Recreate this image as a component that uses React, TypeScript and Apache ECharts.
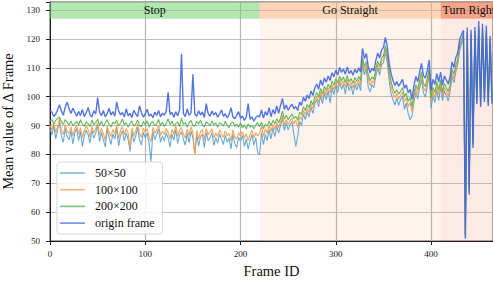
import React, { useEffect, useRef } from 'react';
import * as echarts from 'echarts';

// Frame IDs sampled every 2 frames (0 … 464)
const frameStep = 2;

const seriesNames = ['50×50', '100×100', '200×200', 'origin frame'];

const phaseNames = ['Stop', 'Go Straight', 'Turn Right'];
const phaseStart = [0, 220, 410];
const phaseEnd = [220, 410, 465];

const xTickValues = [0, 100, 200, 300, 400];
const yTickValues = [50, 60, 70, 80, 90, 100, 110, 120, 130];

// origin frame
const sOrigin = [
  95.2, 94.6, 93.1, 94.0, 95.5, 97.2, 95.0, 93.6, 96.4, 98.1,
  95.8, 94.2, 96.0, 94.7, 93.2, 94.9, 93.5, 95.6, 93.1, 94.4,
  96.3, 93.8, 92.9, 95.1, 94.0, 99.7, 94.6, 93.4, 95.2, 93.0,
  94.1, 96.0, 93.6, 94.8, 93.2, 98.2, 95.1, 93.7, 94.5, 93.0,
  95.8, 93.4, 94.2, 92.8, 95.3, 94.0, 93.1, 96.9, 94.4, 92.9,
  94.1, 95.6, 93.3, 94.0, 92.7, 94.6, 93.5, 95.2, 93.0, 94.3,
  93.6, 95.0, 101.5, 93.8, 94.5, 92.9, 94.8, 93.4, 95.5, 114.9,
  94.2, 93.1, 95.8, 93.5, 94.4, 107.8, 94.0, 93.2, 95.1, 93.6,
  94.7, 92.8, 97.6, 94.1, 93.3, 95.0, 93.7, 94.5, 92.9, 94.0,
  95.4, 93.2, 94.1, 92.6, 93.9, 96.2, 93.0, 92.4, 93.5, 94.8,
  92.5, 93.3, 91.8, 92.9, 97.6, 92.2, 93.0, 91.5, 92.8, 93.4,
  93.0, 95.4, 92.6, 94.8, 93.5, 96.2, 93.1, 95.5, 94.0, 96.8,
  94.2, 97.0, 99.4, 95.6, 97.1, 95.3, 96.5, 97.4, 95.8, 96.6,
  95.2, 98.1, 97.0, 99.8, 98.4, 100.6, 99.3, 102.0, 100.4, 103.1,
  104.4, 102.6, 105.8, 103.9, 106.5, 105.0, 107.2, 105.6, 108.3, 106.9,
  109.2, 107.5, 110.1, 108.4, 109.6, 107.8, 110.3, 108.0, 109.1, 107.4,
  109.5, 108.2, 110.0, 108.5, 116.7, 113.2, 115.0, 110.4, 108.3, 109.8,
  108.9, 112.6, 115.1, 113.4, 116.2, 117.0, 120.5, 117.4, 111.6, 108.0,
  105.7, 103.9, 105.2, 103.6, 104.8, 106.0, 102.9, 104.1, 101.3, 102.5,
  99.1, 103.8, 107.0, 105.2, 108.6, 111.5, 107.3, 106.4, 109.1, 112.7,
  102.2, 106.0, 104.3, 108.0, 105.1,
  108.5, 104.0, 107.2, 105.8, 104.4, 106.9, 112.0, 110.2, 113.5, 115.3,
  119.8, 121.5, 123.0, 50.8, 124.0, 66.0, 123.2, 82.2, 124.1, 97.5,
  126.2, 96.4, 125.3, 98.2, 124.6, 96.8, 121.0, 97.5,
];

// 200×200
const s200 = [
  91.5, 92.0, 90.6, 91.8, 92.4, 93.0, 91.2, 90.4, 92.1, 91.0,
  90.2, 91.6, 89.9, 90.8, 91.4, 90.1, 92.0, 90.5, 89.8, 91.3,
  90.7, 89.6, 91.9, 90.3, 91.1, 92.2, 90.0, 91.5, 89.7, 90.9,
  92.0, 90.4, 89.5, 91.2, 90.6, 91.8, 89.9, 90.7, 92.3, 90.2,
  91.0, 89.4, 90.8, 91.6, 89.8, 90.5, 91.9, 90.1, 89.6, 91.4,
  90.3, 91.7, 89.5, 90.9, 91.3, 89.9, 90.6, 92.1, 90.0, 91.1,
  89.7, 90.8, 92.4, 90.3, 91.5, 89.8, 90.7, 91.2, 89.6, 92.6,
  90.4, 91.0, 89.5, 90.9, 91.8, 90.1, 89.7, 91.4, 90.5, 91.9,
  90.0, 89.6, 91.3, 90.7, 89.9, 91.6, 90.2, 90.9, 89.4, 91.0,
  90.6, 89.8, 91.5, 90.1, 89.3, 90.8, 91.2, 89.7, 90.4, 89.5,
  90.9, 89.2, 90.3, 88.8, 90.6, 89.4, 90.0, 88.9, 90.2, 91.0,
  89.6, 91.2, 88.9, 90.4, 89.8, 91.5, 90.0, 91.8, 90.6, 92.4,
  91.0, 92.5, 95.0, 92.3, 93.6, 92.0, 93.1, 94.0, 92.4, 93.2,
  91.8, 94.6, 93.9, 96.5, 95.2, 97.3, 96.1, 98.6, 97.2, 100.0,
  101.5, 99.8, 102.9, 101.0, 103.6, 102.2, 104.3, 102.8, 105.4, 104.0,
  106.2, 104.7, 107.1, 105.5, 106.8, 104.9, 107.4, 105.1, 106.3, 104.6,
  106.7, 105.3, 107.0, 105.6, 113.5, 110.4, 112.1, 107.6, 105.5, 106.9,
  106.0, 109.8, 112.3, 110.6, 113.4, 114.2, 117.6, 114.5, 108.9, 105.3,
  102.8, 101.2, 102.4, 100.9, 101.9, 103.1, 100.0, 101.2, 98.4, 99.7,
  96.5, 101.0, 104.1, 102.5, 105.8, 108.6, 104.6, 103.5, 106.3, 109.8,
  99.6, 103.2, 101.5, 105.1, 102.4,
  105.9, 101.6, 104.5, 103.1, 101.8, 104.2, 109.4, 107.8, 111.0, 113.0,
  117.6, 119.8, 121.6, 51.5, 122.5, 67.2, 121.8, 83.4, 122.6, 98.2,
  124.5, 97.3, 123.6, 99.0, 122.9, 97.6, 119.6, 98.3,
];

// 100×100
const s100 = [
  90.2, 88.4, 91.0, 87.6, 89.8, 92.5, 88.1, 86.9, 90.4, 88.0,
  87.2, 89.5, 86.4, 88.9, 90.1, 87.0, 89.3, 85.8, 88.2, 90.0,
  88.6, 86.1, 89.7, 87.5, 88.8, 91.2, 86.7, 89.0, 87.3, 84.6,
  89.9, 87.8, 86.2, 88.7, 87.1, 90.3, 85.5, 88.4, 89.6, 86.8,
  88.9, 87.4, 82.2, 89.2, 86.5, 88.0, 90.6, 87.2, 85.9, 89.1,
  87.7, 88.9, 86.0, 84.3, 89.4, 87.3, 88.5, 90.2, 86.6, 88.1,
  86.9, 89.0, 87.5, 85.4, 88.7, 87.0, 90.0, 86.3, 88.4, 89.3,
  87.1, 85.7, 88.8, 86.4, 89.5, 87.6, 79.8, 88.3, 85.2, 87.9,
  88.6, 84.9, 89.0, 86.8, 87.7, 88.9, 85.6, 87.4, 86.2, 88.5,
  87.0, 85.9, 88.1, 86.5, 87.3, 84.7, 88.6, 86.1, 85.3, 87.5,
  86.4, 88.0, 85.5, 87.2, 84.8, 86.9, 88.3, 85.7, 87.6, 86.3,
  87.5, 89.6, 86.2, 88.8, 87.4, 90.1, 88.0, 90.4, 88.6, 91.0,
  89.3, 91.2, 93.6, 90.1, 92.0, 90.4, 91.7, 92.5, 90.6, 91.8,
  89.4, 93.0, 92.1, 95.2, 93.8, 96.0, 94.6, 97.5, 95.8, 98.7,
  100.2, 98.1, 101.6, 99.5, 102.3, 100.6, 103.0, 101.3, 104.2, 102.4,
  105.0, 103.1, 106.0, 104.2, 105.4, 103.3, 106.1, 103.6, 105.0, 103.0,
  105.4, 103.9, 105.8, 104.0, 112.4, 109.0, 110.9, 106.2, 103.8, 105.5,
  104.6, 108.4, 111.1, 109.1, 112.3, 112.9, 116.4, 113.2, 107.4, 103.6,
  101.0, 99.6, 101.0, 99.2, 100.5, 101.6, 98.3, 99.6, 96.6, 98.0,
  94.8, 99.4, 102.8, 101.0, 104.4, 107.2, 103.1, 101.9, 104.9, 108.6,
  97.9, 101.8, 99.9, 103.6, 100.9,
  104.6, 100.3, 103.0, 101.9, 100.2, 102.9, 108.1, 106.3, 109.8, 112.0,
  116.8, 119.0, 120.9, 52.3, 121.9, 68.0, 121.2, 84.0, 122.0, 99.1,
  123.8, 98.0, 123.0, 99.8, 122.2, 98.4, 118.9, 99.0,
];

// 50×50
const s50 = [
  88.9, 86.8, 90.1, 85.4, 88.6, 91.0, 86.3, 84.2, 89.0, 86.1,
  85.0, 88.2, 83.6, 87.4, 89.0, 84.8, 87.9, 82.7, 86.5, 88.4,
  86.9, 83.9, 88.5, 85.6, 87.3, 90.2, 84.4, 87.6, 85.1, 82.5,
  88.7, 85.9, 83.4, 87.1, 85.3, 89.0, 82.9, 86.6, 88.2, 84.6,
  87.4, 85.2, 81.0, 87.8, 84.3, 86.4, 89.3, 85.0, 83.2, 87.6,
  85.8, 87.3, 83.9, 77.6, 88.0, 85.1, 86.9, 88.8, 84.2, 86.4,
  84.6, 87.5, 85.6, 82.6, 87.1, 84.9, 88.6, 83.8, 86.7, 87.9,
  85.2, 83.1, 87.4, 84.0, 88.1, 85.7, 80.4, 86.8, 82.9, 86.2,
  86.9, 82.4, 87.6, 84.7, 85.9, 87.5, 83.0, 85.8, 83.9, 87.0,
  85.3, 83.4, 86.7, 84.2, 85.6, 81.9, 87.1, 83.6, 82.4, 85.9,
  84.5, 86.6, 82.8, 85.4, 81.8, 84.7, 86.9, 83.1, 85.8, 80.5,
  79.8, 87.6, 83.4, 86.9, 84.8, 88.5, 85.4, 89.1, 86.2, 89.8,
  87.4, 90.1, 92.6, 88.3, 90.9, 88.5, 90.2, 91.3, 86.9, 82.8,
  86.2, 91.5, 90.0, 94.0, 92.1, 94.8, 93.0, 96.4, 94.1, 97.6,
  99.0, 96.5, 100.4, 97.6, 101.2, 98.9, 102.0, 97.8, 103.1, 100.6,
  104.0, 101.4, 105.1, 102.5, 104.3, 100.9, 105.0, 102.1, 103.9, 100.6,
  104.2, 102.3, 104.6, 102.0, 111.5, 107.6, 109.7, 103.4, 101.6, 104.2,
  103.1, 107.1, 110.0, 107.4, 111.2, 111.7, 115.3, 111.8, 105.6, 101.0,
  99.0, 97.1, 99.6, 96.9, 99.0, 100.2, 95.6, 97.8, 94.1, 92.0,
  93.4, 97.9, 101.5, 99.2, 103.1, 105.9, 101.4, 99.8, 103.6, 107.5,
  96.0, 100.5, 97.9, 102.3, 98.7,
  103.4, 98.6, 101.9, 100.3, 98.5, 101.7, 107.0, 104.8, 108.7, 111.0,
  116.0, 118.2, 120.3, 51.9, 121.4, 70.1, 120.7, 85.5, 121.5, 100.3,
  123.2, 98.8, 122.4, 100.7, 121.6, 99.3, 118.3, 99.8,
];

const seriesValues = [s50, s100, s200, sOrigin];
const seriesColors = ['#55a0d3', '#f59a48', '#4db04d', '#3f66e0'];

const FONT = '"Liberation Serif", "Times New Roman", serif';
const X_MAX = 465;
const Y_MIN = 50;
const Y_MAX = 132.8;
const BAND_BOTTOM = 127;

const bandColors = ['rgba(117,210,111,0.55)', 'rgba(251,171,113,0.5)', 'rgba(241,126,88,0.7)'];
const bgColors = ['rgba(255,255,255,0)', 'rgba(250,190,150,0.17)', 'rgba(250,150,120,0.2)'];

export default function App() {
  const ref = useRef<HTMLDivElement>(null);
  useEffect(() => {
    if (!ref.current) return;
    const chart = echarts.init(ref.current, null, { renderer: 'svg' });

    const markAreaData: any[] = [];
    phaseNames.forEach((name, i) => {
      markAreaData.push([
        { xAxis: phaseStart[i], yAxis: Y_MIN, itemStyle: { color: bgColors[i] }, label: { show: false } },
        { xAxis: phaseEnd[i], yAxis: BAND_BOTTOM },
      ]);
    });
    phaseNames.forEach((name, i) => {
      const isLast = i === phaseNames.length - 1;
      markAreaData.push([
        {
          name,
          xAxis: phaseStart[i],
          yAxis: BAND_BOTTOM,
          itemStyle: { color: bandColors[i] },
          label: {
            show: true,
            position: isLast ? 'insideLeft' : 'inside',
            distance: 2,
            color: '#111',
            fontFamily: FONT,
            fontSize: 12,
          },
        },
        { xAxis: phaseEnd[i], yAxis: Y_MAX },
      ]);
    });

    const series = seriesNames.map((name, si) => {
      const vals = seriesValues[si];
      const s: any = {
        name,
        type: 'line',
        symbol: 'none',
        data: vals.map((v, i) => [i * frameStep, v]),
        lineStyle: { color: seriesColors[si], width: si === 3 ? 1.4 : 1.1, opacity: 0.9 },
        itemStyle: { color: seriesColors[si] },
        emphasis: { disabled: true },
        silent: true,
      };
      if (si === 0) {
        s.markArea = { silent: true, data: markAreaData };
      }
      return s;
    });

    chart.setOption({
      animation: false,
      backgroundColor: '#ffffff',
      textStyle: { fontFamily: FONT },
      grid: {
        left: 50,
        right: 0,
        top: 2,
        bottom: 41,
        containLabel: false,
        outerBoundsMode: 'none',
        show: true,
        borderColor: '#444',
        borderWidth: 1,
        backgroundColor: 'transparent',
      },
      legend: {
        orient: 'vertical',
        left: 57,
        top: 162,
        padding: [4, 8, 4, 3],
        itemGap: 2.7,
        itemWidth: 25,
        itemHeight: 1.6,
        icon: 'rect',
        backgroundColor: 'rgba(255,255,255,0.85)',
        borderColor: '#d6d6d6',
        borderWidth: 1,
        borderRadius: 3,
        itemStyle: { opacity: 0.75 },
        textStyle: { fontFamily: FONT, fontSize: 12, color: '#111', lineHeight: 14, padding: [0, 0, 0, 5] },
        data: seriesNames,
      },
      xAxis: {
        type: 'value',
        min: 0,
        max: X_MAX,
        interval: 100,
        name: 'Frame ID',
        nameLocation: 'middle',
        nameGap: 22,
        nameTextStyle: { fontFamily: FONT, fontSize: 14.5, color: '#111' },
        axisLine: { show: true, lineStyle: { color: '#222', width: 1 } },
        axisTick: { show: true, length: 4, lineStyle: { color: '#222' } },
        axisLabel: {
          fontFamily: FONT,
          fontSize: 9,
          color: '#222',
          margin: 8,
          formatter: (v: number) => (xTickValues.includes(v) ? String(v) : ''),
        },
        splitLine: { show: true, lineStyle: { color: '#b4b4b4', width: 1.2 } },
      },
      yAxis: {
        type: 'value',
        min: Y_MIN,
        max: Y_MAX,
        interval: 10,
        name: 'Mean value of Δ Frame',
        nameLocation: 'middle',
        nameGap: 32,
        nameTextStyle: { fontFamily: FONT, fontSize: 14.5, color: '#111' },
        axisLine: { show: true, lineStyle: { color: '#222', width: 1 } },
        axisTick: { show: true, length: 4, lineStyle: { color: '#222' } },
        axisLabel: {
          fontFamily: FONT,
          fontSize: 9,
          color: '#222',
          margin: 10,
          formatter: (v: number) => (yTickValues.includes(v) ? String(v) : ''),
        },
        splitLine: { show: true, lineStyle: { color: '#bdbdbd', width: 1.2 } },
      },
      series,
    });

    return () => chart.dispose();
  }, []);

  return (
    <div
      ref={ref}
      style={{ position: 'fixed', left: 0, top: 0, width: 493, height: 282, background: '#fff' }}
    />
  );
}
